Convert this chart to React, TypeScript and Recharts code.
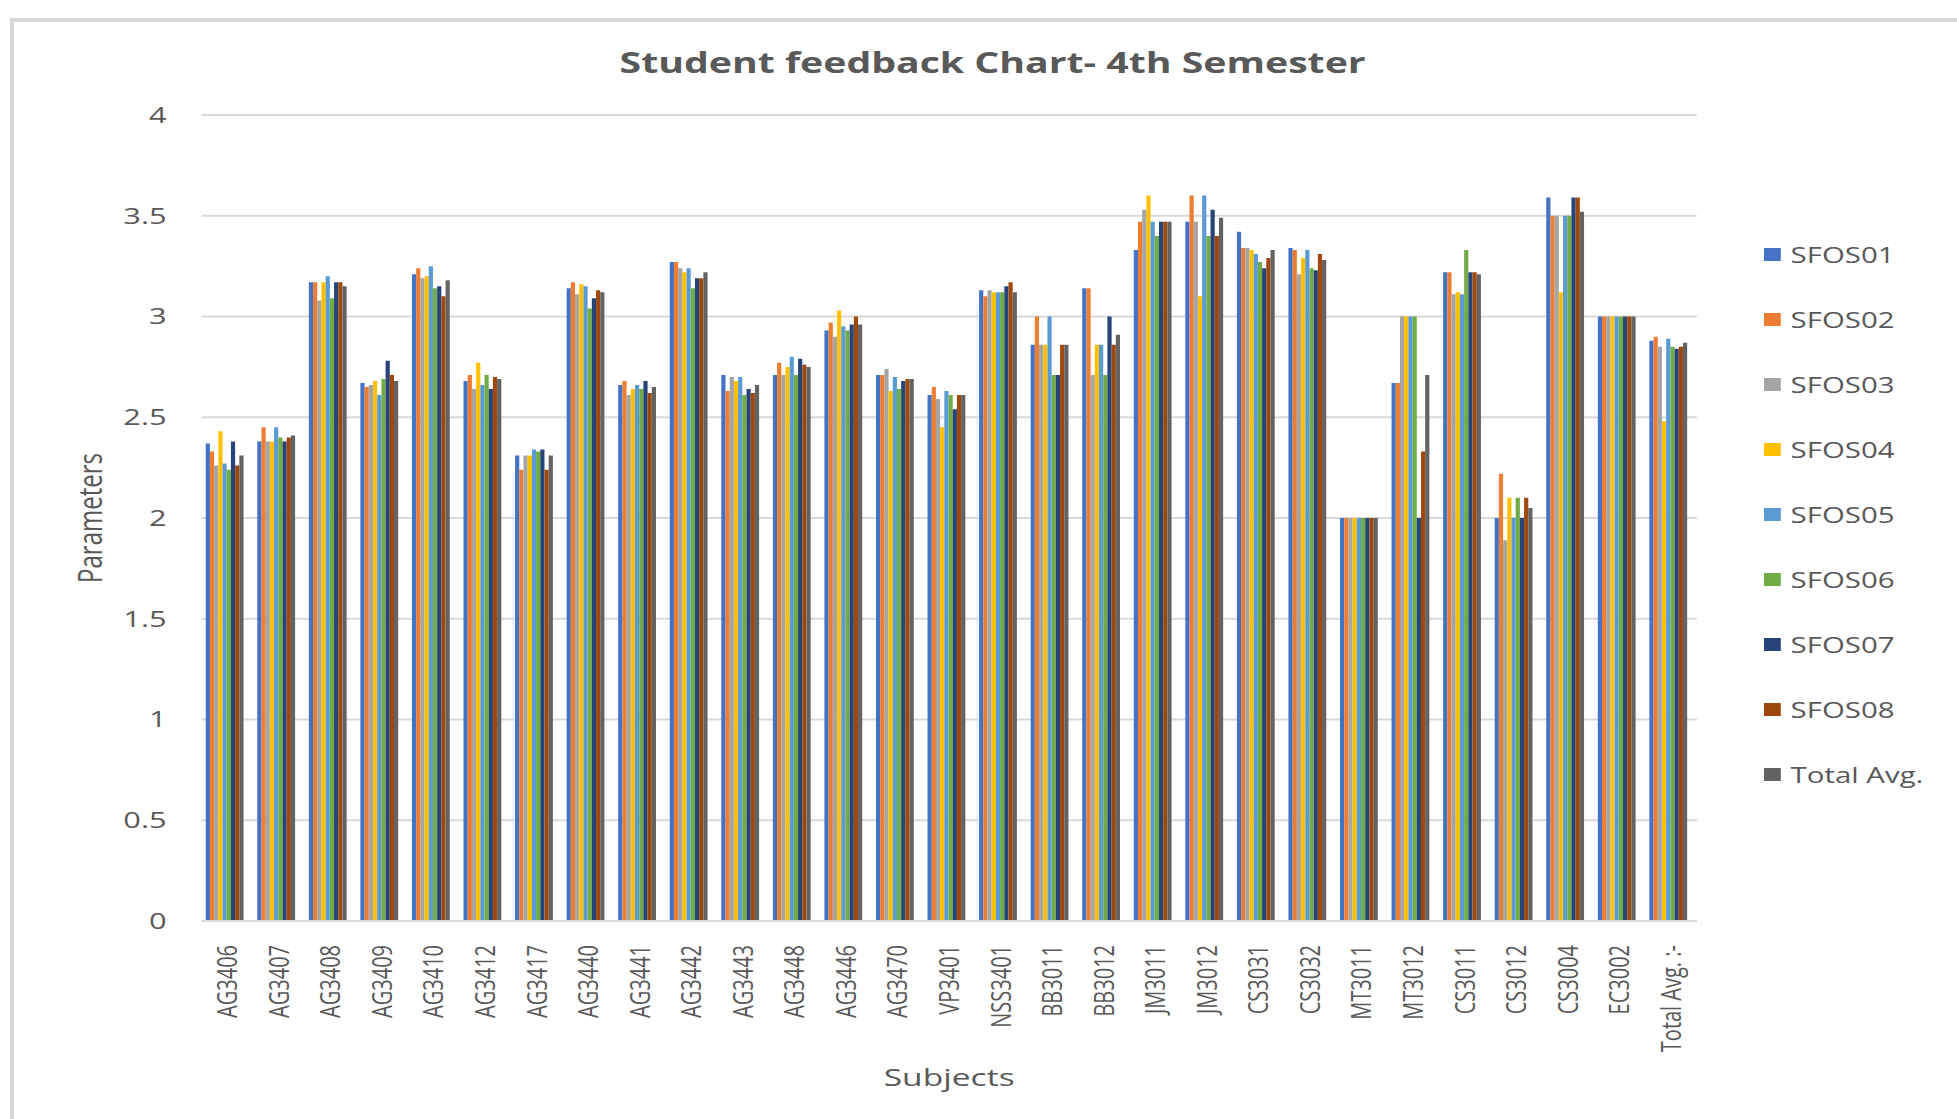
import React from 'react'
import { BarChart, Bar, XAxis, YAxis, CartesianGrid } from 'recharts'

// the reference is a horizontally stretched screenshot, so the chart is drawn narrower and scaled in x
const STRETCH = 1.4
const W = 1397
const H = 1119

const subjects = [
  'AG3406', 'AG3407', 'AG3408', 'AG3409', 'AG3410', 'AG3412', 'AG3417', 'AG3440', 'AG3441', 'AG3442',
  'AG3443', 'AG3448', 'AG3446', 'AG3470', 'VP3401', 'NSS3401', 'BB3011', 'BB3012', 'JM3011', 'JM3012',
  'CS3031', 'CS3032', 'MT3011', 'MT3012', 'CS3011', 'CS3012', 'CS3004', 'EC3002', 'Total Avg. :-',
]

const sfos01 = [2.37, 2.38, 3.17, 2.67, 3.21, 2.68, 2.31, 3.14, 2.66, 3.27, 2.71, 2.71, 2.93, 2.71, 2.61, 3.13, 2.86, 3.14, 3.33, 3.47, 3.42, 3.34, 2.0, 2.67, 3.22, 2.0, 3.59, 3.0, 2.88]
const sfos02 = [2.33, 2.45, 3.17, 2.65, 3.24, 2.71, 2.24, 3.17, 2.68, 3.27, 2.63, 2.77, 2.97, 2.71, 2.65, 3.1, 3.0, 3.14, 3.47, 3.6, 3.34, 3.33, 2.0, 2.67, 3.22, 2.22, 3.5, 3.0, 2.9]
const sfos03 = [2.26, 2.38, 3.08, 2.66, 3.19, 2.64, 2.31, 3.11, 2.61, 3.24, 2.7, 2.71, 2.9, 2.74, 2.59, 3.13, 2.86, 2.71, 3.53, 3.47, 3.34, 3.21, 2.0, 3.0, 3.11, 1.89, 3.5, 3.0, 2.85]
const sfos04 = [2.43, 2.38, 3.17, 2.68, 3.2, 2.77, 2.31, 3.16, 2.64, 3.22, 2.68, 2.75, 3.03, 2.63, 2.45, 3.12, 2.86, 2.86, 3.6, 3.1, 3.33, 3.29, 2.0, 3.0, 3.12, 2.1, 3.12, 3.0, 2.48]
const sfos05 = [2.27, 2.45, 3.2, 2.61, 3.25, 2.66, 2.34, 3.15, 2.66, 3.24, 2.7, 2.8, 2.95, 2.7, 2.63, 3.12, 3.0, 2.86, 3.47, 3.6, 3.31, 3.33, 2.0, 3.0, 3.11, 2.0, 3.5, 3.0, 2.89]
const sfos06 = [2.24, 2.4, 3.09, 2.69, 3.14, 2.71, 2.33, 3.04, 2.64, 3.14, 2.61, 2.71, 2.93, 2.64, 2.61, 3.12, 2.71, 2.71, 3.4, 3.4, 3.27, 3.24, 2.0, 3.0, 3.33, 2.1, 3.5, 3.0, 2.85]
const sfos07 = [2.38, 2.38, 3.17, 2.78, 3.15, 2.64, 2.34, 3.09, 2.68, 3.19, 2.64, 2.79, 2.96, 2.68, 2.54, 3.15, 2.71, 3.0, 3.47, 3.53, 3.24, 3.23, 2.0, 2.0, 3.22, 2.0, 3.59, 3.0, 2.84]
const sfos08 = [2.26, 2.4, 3.17, 2.71, 3.1, 2.7, 2.24, 3.13, 2.62, 3.19, 2.62, 2.76, 3.0, 2.69, 2.61, 3.17, 2.86, 2.86, 3.47, 3.4, 3.29, 3.31, 2.0, 2.33, 3.22, 2.1, 3.59, 3.0, 2.85]
const totalAvg = [2.31, 2.41, 3.15, 2.68, 3.18, 2.69, 2.31, 3.12, 2.65, 3.22, 2.66, 2.75, 2.96, 2.69, 2.61, 3.12, 2.86, 2.91, 3.47, 3.49, 3.33, 3.28, 2.0, 2.71, 3.21, 2.05, 3.52, 3.0, 2.87]

const seriesNames = ['SFOS01', 'SFOS02', 'SFOS03', 'SFOS04', 'SFOS05', 'SFOS06', 'SFOS07', 'SFOS08', 'Total Avg.']
const seriesColors = ['#4472C4', '#ED7D31', '#A5A5A5', '#FFC000', '#5B9BD5', '#70AD47', '#264478', '#9E480E', '#636363']
const seriesValues = [sfos01, sfos02, sfos03, sfos04, sfos05, sfos06, sfos07, sfos08, totalAvg]

const yTicks = [0, 0.5, 1, 1.5, 2, 2.5, 3, 3.5, 4]

const data = subjects.map((subject, i) => {
  const row: Record<string, string | number> = { subject }
  seriesValues.forEach((values, k) => {
    row[`s${k}`] = values[i]
  })
  return row
})

const textColor = '#595959'
const font = '"Open Sans", sans-serif'

const SubjectTick = ({ x, y, payload }: any) => (
  <g transform={`translate(${x},${y})`}>
    <text transform="rotate(-90)" textAnchor="end" dy="0.35em" fill={textColor} fontSize={20} fontFamily={font}>
      {payload.value}
    </text>
  </g>
)

const App = () => {
  return (
    <div style={{ position: 'absolute', left: 0, top: 0, width: 1957, height: H, background: '#fff', overflow: 'hidden' }}>
      <div
        style={{
          position: 'absolute',
          left: 10,
          top: 18,
          width: 1947,
          height: H - 18,
          borderTop: '4px solid #d9d9d9',
          borderLeft: '4px solid #d9d9d9',
          boxSizing: 'border-box',
        }}
      />
      <div style={{ position: 'absolute', left: 0, top: 0, width: W, height: H, transform: `scaleX(${STRETCH})`, transformOrigin: '0 0' }}>
        <div
          style={{
            position: 'absolute',
            left: 0,
            width: 1418,
            top: 48,
            textAlign: 'center',
            fontFamily: font,
            fontWeight: 700,
            fontSize: 28,
            lineHeight: '28px',
            color: textColor,
            whiteSpace: 'nowrap',
          }}
        >
          Student feedback Chart- 4th Semester
        </div>

        <BarChart
          width={W}
          height={H}
          data={data}
          margin={{ top: 115, right: 185, bottom: 0, left: 0 }}
          barGap={0}
          barCategoryGap="8%"
        >
          <CartesianGrid vertical={false} stroke="#d9d9d9" strokeWidth={2} />
          <XAxis
            dataKey="subject"
            interval={0}
            height={198}
            tickLine={false}
            tickSize={0}
            tickMargin={24}
            axisLine={{ stroke: '#d9d9d9', strokeWidth: 2 }}
            tick={<SubjectTick />}
            label={{ value: 'Subjects', position: 'insideBottom', offset: 33, fill: textColor, fontSize: 24, fontFamily: font }}
          />
          <YAxis
            width={144}
            domain={[0, 4]}
            ticks={yTicks}
            axisLine={false}
            tickLine={false}
            tickSize={0}
            tickMargin={25}
            tick={{ fill: textColor, fontSize: 22, fontFamily: font }}
            label={{
              value: 'Parameters',
              angle: -90,
              position: 'insideLeft',
              offset: 64,
              fill: textColor,
              fontSize: 24,
              fontFamily: font,
              style: { textAnchor: 'middle' },
            }}
          />
          {seriesNames.map((name, k) => (
            <Bar key={name} dataKey={`s${k}`} name={name} fill={seriesColors[k]} isAnimationActive={false} />
          ))}
        </BarChart>

        <div style={{ position: 'absolute', left: 1260, top: 222, fontFamily: font, fontSize: 21, color: textColor }}>
          {seriesNames.map((name, k) => (
            <div key={name} style={{ height: 65, display: 'flex', alignItems: 'center', whiteSpace: 'nowrap' }}>
              <span style={{ width: 11.5, height: 12.5, background: seriesColors[k], marginRight: 7.5, display: 'inline-block' }} />
              {name}
            </div>
          ))}
        </div>
      </div>
    </div>
  )
}

export default App
